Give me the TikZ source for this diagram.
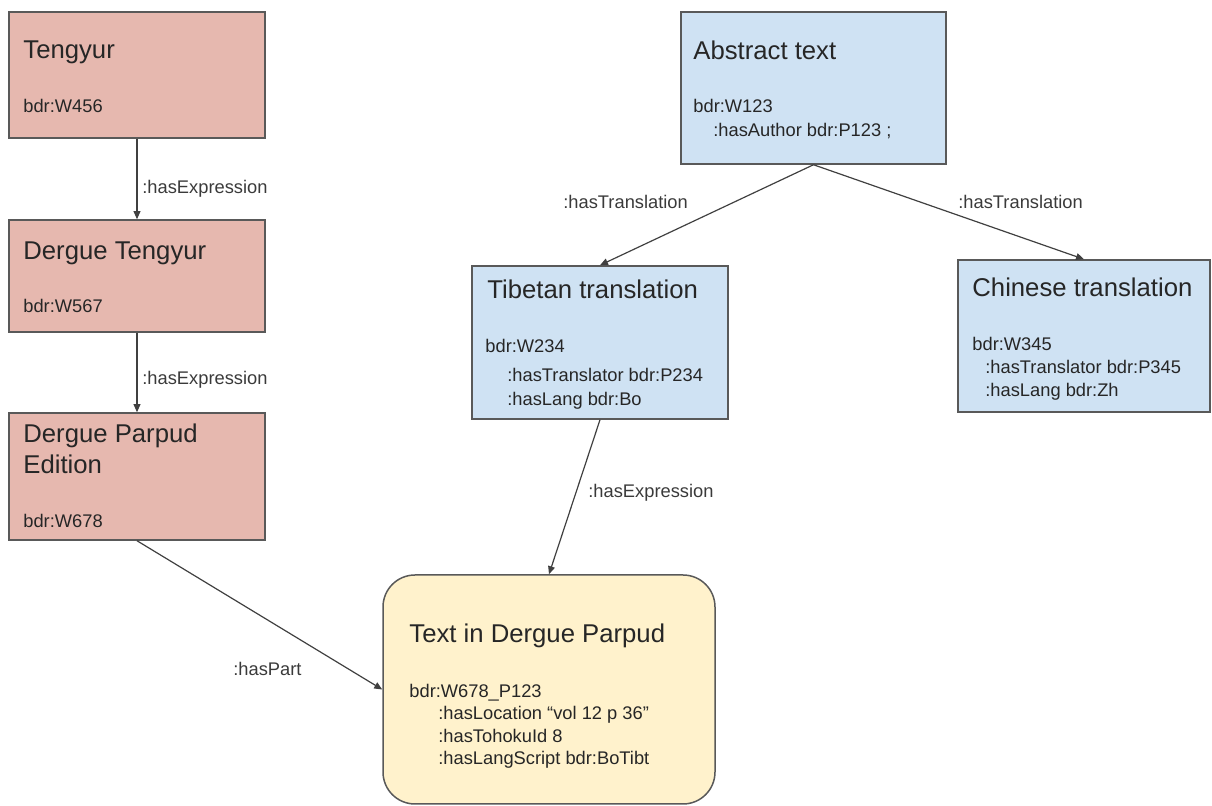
\documentclass[tikz,border=0pt]{standalone}
\usepackage{fontspec}
\setmainfont{Liberation Sans}
\usepackage{tikz}
\usetikzlibrary{arrows.meta}

\definecolor{redfill}{HTML}{E6B8AF}
\definecolor{bluefill}{HTML}{CFE2F3}
\definecolor{yellowfill}{HTML}{FFF2CC}
\definecolor{edgegray}{HTML}{595959}
\definecolor{linegray}{HTML}{404040}
\definecolor{ink}{HTML}{262626}
\definecolor{labelink}{HTML}{3A3A3A}

\newcommand{\titlefont}{\fontsize{12.85}{15}\selectfont}
\newcommand{\bodyfont}{\fontsize{9.15}{11}\selectfont}

\begin{document}
\begin{tikzpicture}[x=0.5pt,y=-0.5pt,
    redbox/.style={draw=edgegray,line width=0.75pt,fill=redfill,inner sep=0pt},
    bluebox/.style={draw=edgegray,line width=0.75pt,fill=bluefill,inner sep=0pt},
    partbox/.style={draw=edgegray,line width=0.75pt,fill=yellowfill,inner sep=0pt,rounded corners=16pt},
    title/.style={anchor=base west,inner sep=0pt,font=\titlefont,text=ink},
    body/.style={anchor=base west,inner sep=0pt,font=\bodyfont,text=ink},
    linklabel/.style={anchor=mid west,inner sep=0pt,font=\bodyfont,text=labelink},
    link/.style={draw=linegray,line width=0.6pt,-{Triangle[length=4pt,width=3.4pt]}}]
\useasboundingbox (0,0) rectangle (1212,806);
% boxes

\node[redbox,minimum width=128pt,minimum height=63pt] (tengyur) at (137,75) {};
\node[redbox,minimum width=128pt,minimum height=56pt] (dtengyur) at (137,276) {};
\node[redbox,minimum width=128pt,minimum height=63.5pt] (parpud) at (137,476.5) {};

\node[bluebox,minimum width=132.5pt,minimum height=76pt] (abstract) at (813.5,88) {};
\node[bluebox,minimum width=128pt,minimum height=76.5pt] (tibetan) at (600,342.5) {};
\node[bluebox,minimum width=126pt,minimum height=76pt] (chinese) at (1084,336) {};

\node[partbox,minimum width=166pt,minimum height=114.5pt] (partext) at (549,689.5) {};

% texts

\node[title] (tengyur-t) at (23,59) {Tengyur};
\node[body] (tengyur-b) at (23,113) {bdr:W456};

\node[title] (dtengyur-t) at (23,260) {Dergue Tengyur};
\node[body] (dtengyur-b) at (23,313) {bdr:W567};

\node[title] (parpud-t1) at (23,443) {Dergue Parpud};
\node[title] (parpud-t2) at (23,474) {Edition};
\node[body] (parpud-b) at (23,528) {bdr:W678};

\node[title] (abstract-t) at (693,60) {Abstract text};
\node[body] (abstract-b1) at (693,113) {bdr:W123};
\node[body] (abstract-b2) at (713,137) {:hasAuthor bdr:P123 ;};

\node[title] (tibetan-t) at (487,299) {Tibetan translation};
\node[body] (tibetan-b1) at (485,353) {bdr:W234};
\node[body] (tibetan-b2) at (507,382) {:hasTranslator bdr:P234};
\node[body] (tibetan-b3) at (507,406) {:hasLang bdr:Bo};

\node[title] (chinese-t) at (972,297) {Chinese translation};
\node[body] (chinese-b1) at (972,351) {bdr:W345};
\node[body] (chinese-b2) at (985,374) {:hasTranslator bdr:P345};
\node[body] (chinese-b3) at (985,397) {:hasLang bdr:Zh};

\node[title] (partext-t) at (409,643) {Text in Dergue Parpud};
\node[body] (partext-b1) at (409,698) {bdr:W678\_P123};
\node[body] (partext-b2) at (438,720) {:hasLocation “vol 12 p 36”};
\node[body] (partext-b3) at (438,743) {:hasTohokuId 8};
\node[body] (partext-b4) at (438,765) {:hasLangScript bdr:BoTibt};

% links

\draw[link] (tengyur.south) -- (dtengyur.north);
\draw[link] (dtengyur.south) -- (parpud.north);
\draw[link] (parpud.south) -- (partext.west);
\draw[link] (abstract.south) -- (tibetan.north);
\draw[link] (abstract.south) -- (chinese.north);
\draw[link] (tibetan.south) -- (partext.north);

\node[linklabel] (expr1) at (142,188) {:hasExpression};
\node[linklabel] (expr2) at (142,379) {:hasExpression};
\node[linklabel] (transl1) at (563,203) {:hasTranslation};
\node[linklabel] (transl2) at (958,203) {:hasTranslation};
\node[linklabel] (expr3) at (588,492) {:hasExpression};
\node[linklabel] (part) at (233,670) {:hasPart};

\end{tikzpicture}
\end{document}
